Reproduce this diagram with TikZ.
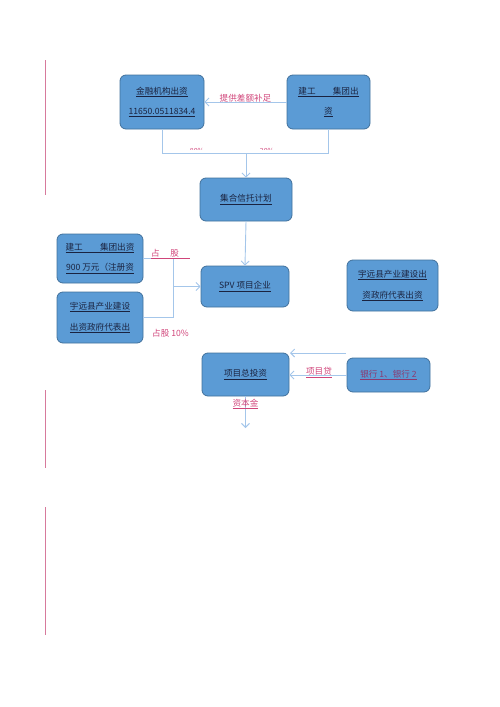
\documentclass[tikz,border=0pt]{standalone}
\usepackage{fontspec}
\setmainfont{Noto Sans CJK SC}
\usetikzlibrary{arrows.meta}
\definecolor{boxfill}{HTML}{5B9BD5}
\definecolor{boxline}{HTML}{41719C}
\definecolor{conncol}{HTML}{A4C6EA}
\definecolor{redtxt}{HTML}{D0457A}
\definecolor{margincol}{HTML}{D77A9C}
\definecolor{boxtxt}{HTML}{1A2340}
\definecolor{banktxt}{HTML}{8B3A70}
\tikzset{
  bx/.style={draw=boxline, line width=0.8pt, fill=boxfill, rounded corners=6pt,
    align=center, text=boxtxt, font=\fontsize{8.6}{20.5}\selectfont, inner sep=0pt},
  conn/.style={draw=conncol, line width=0.9pt},
  arr/.style={conn, -{Straight Barb[length=4pt,width=8pt]}},
  lbl/.style={text=redtxt, font=\fontsize{8.6}{10}\selectfont, inner sep=0pt},
  mline/.style={draw=margincol, line width=1.1pt}
}
\begin{document}
\begin{tikzpicture}[x=1pt,y=-1pt]
\useasboundingbox (0,0) rectangle (500,707);
% margin lines
\draw[mline] (45.5,60) -- (45.5,195);
\draw[mline] (45.5,390) -- (45.5,468);
\draw[mline] (45.5,507) -- (45.5,635);
% boxes
\node[bx, minimum width=84pt, minimum height=54pt] (fin) at (162,102)
  {\underline{金融机构出资}\\\underline{11650.0511834.4}};
\node[bx, minimum width=83pt, minimum height=54pt] (jg) at (328.5,102)
  {\underline{建工\quad\quad 集团出}\\\underline{资}};
\node[bx, minimum width=92pt, minimum height=43pt] (trust) at (246,199.5)
  {\underline{集合信托计划}};
\node[bx, minimum width=88pt, minimum height=41pt] (spv) at (245,286.5)
  {\underline{SPV 项目企业}};
\node[bx, minimum width=86pt, minimum height=49pt] (jg2) at (100,258.5)
  {\underline{建工\quad\quad 集团出资}\\\underline{900 万元（注册资}};
\node[bx, minimum width=86pt, minimum height=51pt] (yy) at (100,317.5)
  {\underline{宇远县产业建设}\\\underline{出资政府代表出}};
\node[bx, minimum width=91pt, minimum height=51pt] (yyr) at (392.5,285.5)
  {\underline{宇远县产业建设出}\\\underline{资政府代表出资}};
\node[bx, minimum width=87pt, minimum height=43pt] (inv) at (245.5,374.5)
  {\underline{项目总投资}};
\node[bx, minimum width=83pt, minimum height=34pt, text=banktxt] (bank) at (388.5,375)
  {\underline{银行 1、银行 2}};
% top connectors
\draw[arr] (jg.west) -- node[lbl, pos=0.5, yshift=4pt] (lbl1) {提供差额补足} (fin.east);
\coordinate (topj) at (246,153);
\draw[conn] (fin.south) -- ++(0,24) -| (jg.south);
\begin{scope}
  \clip (180,142) rectangle (290,149.5);
  \node[lbl, font=\fontsize{7}{8}\selectfont] (p80) at (197,151) {80\%};
  \node[lbl, font=\fontsize{7}{8}\selectfont] (p20) at (267,151) {20\%};
\end{scope}
\draw[arr] (topj) -- (trust.north);
\draw[arr] (trust.south) -- (spv.north);
% left connectors
\coordinate (jn) at (173,286.5);
\draw[conn] (jg2.east) -- ++(30,0) |- (yy.east);
\draw[arr] (jn) -- (spv.west);
\node[lbl, anchor=west] (zg) at (151,253) {占\quad\ 股};
\draw[draw=redtxt, line width=0.5pt] (151,258.5) -- (190,258.5);
\node[lbl, anchor=west] (zg10) at (152,333) {占股 10\%};
% bank connectors
\coordinate (bs) at (346,353);
\coordinate (be) at (290,353);
\draw[arr] (bs) -- (be);
\draw[arr] (bank.west) -- (bank.west -| inv.east);
\node[lbl] (xmd) at (319,372.5) {\underline{项目贷}};
% bottom
\coordinate (cap) at (245.5,428);
\draw[arr] (inv.south) -- (cap);
\node[lbl] (zbj) at (245.5,404) {\underline{资本金}};
\end{tikzpicture}
\end{document}
